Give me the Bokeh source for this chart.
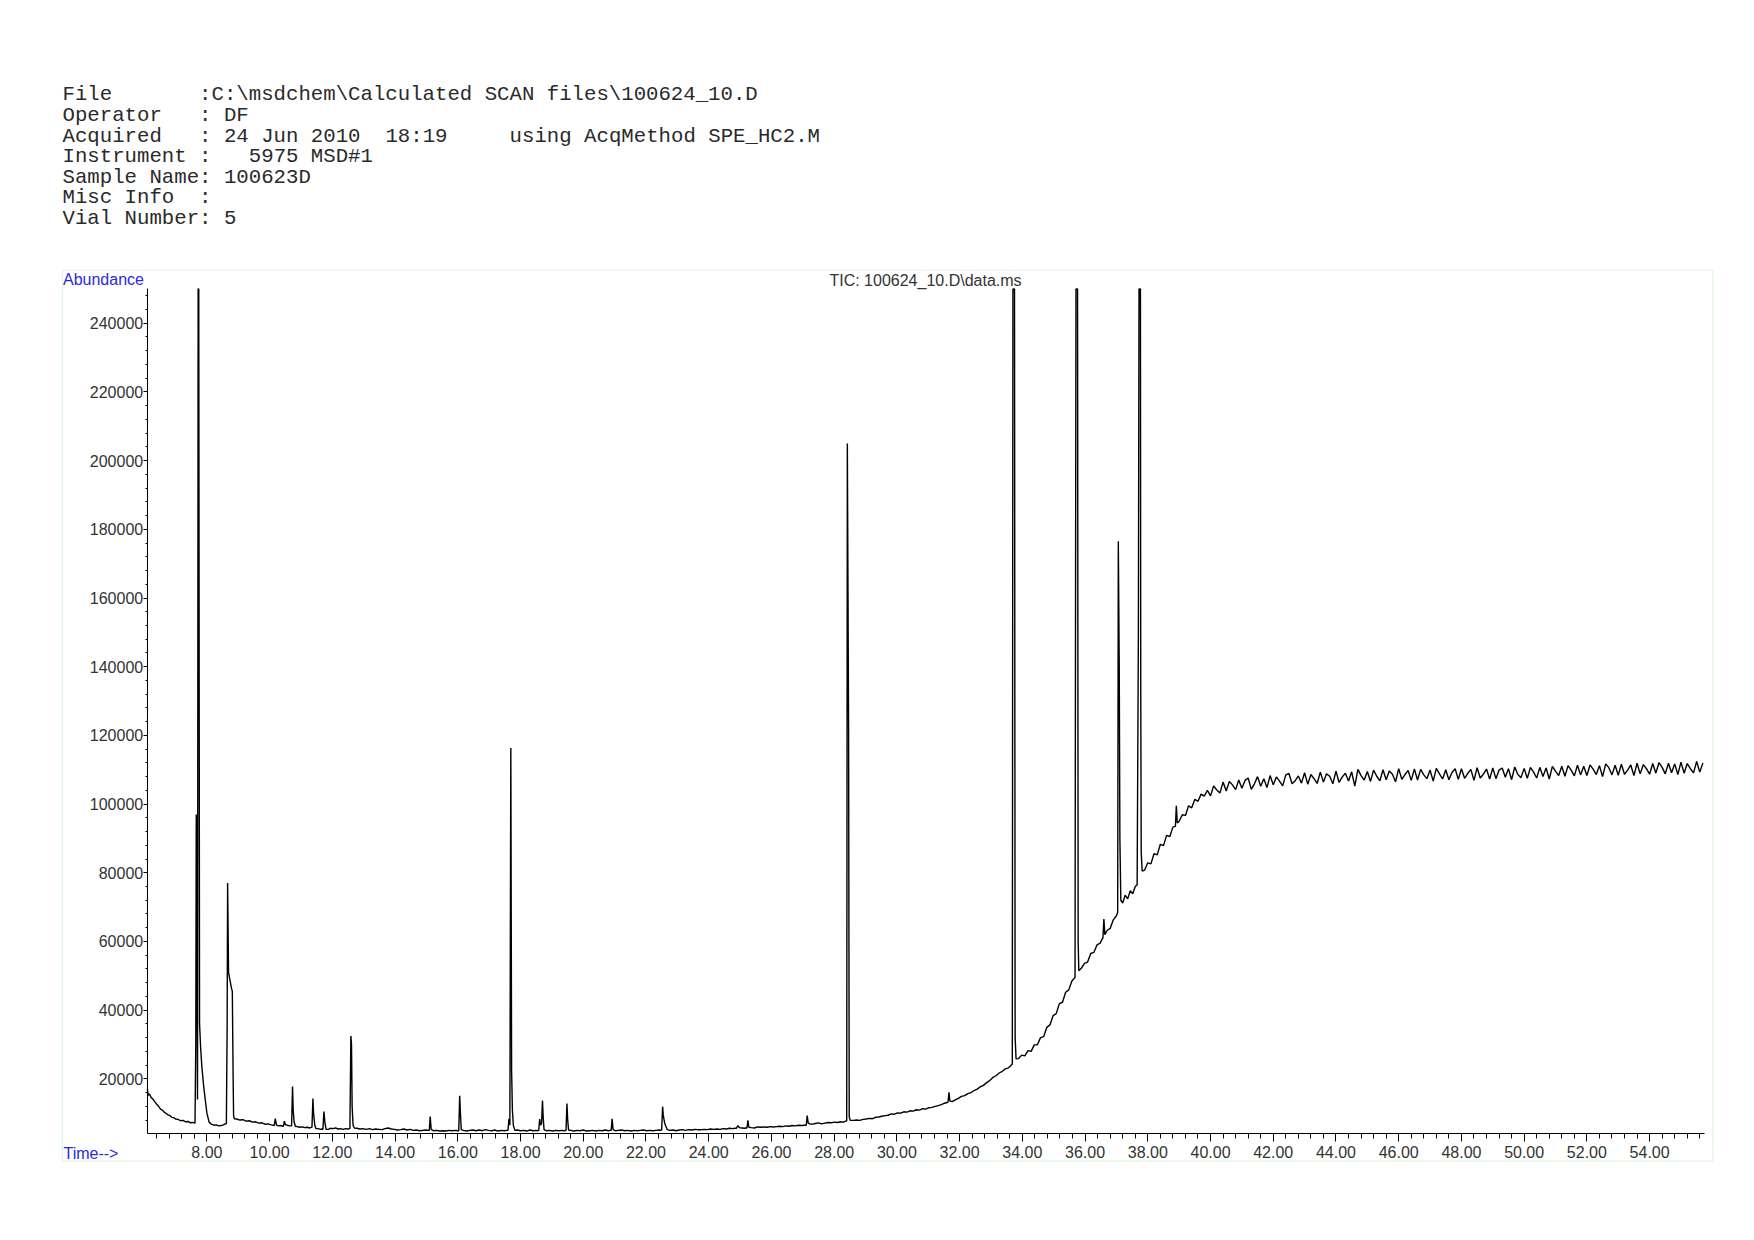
from bokeh.plotting import figure
from bokeh.models import (Range1d, LinearAxis, FixedTicker, PrintfTickFormatter,
                          Label, BoxAnnotation)
from bokeh.embed import file_html
from bokeh.resources import INLINE

# ---------------- data ----------------
header_lines = [
    [(0, "File"), (11, ":C:\\msdchem\\Calculated SCAN files\\100624_10.D")],
    [(0, "Operator"), (11, ": DF")],
    [(0, "Acquired"), (11, ": 24 Jun 2010"), (26, "18:19"), (36, "using AcqMethod SPE_HC2.M")],
    [(0, "Instrument :"), (15, "5975 MSD#1")],
    [(0, "Sample Name: 100623D")],
    [(0, "Misc Info"), (11, ":")],
    [(0, "Vial Number: 5")],
]
plot_title = "TIC: 100624_10.D\\data.ms"
y_label = "Abundance"
x_label = "Time-->"

x_start, x_end = 6.096, 55.76          # time axis extent (min)
y_start, y_end = 4000, 250000          # abundance axis extent
x_major_ticks = [8, 10, 12, 14, 16, 18, 20, 22, 24, 26, 28, 30, 32, 34, 36, 38, 40,
                 42, 44, 46, 48, 50, 52, 54]
y_major_ticks = [20000, 40000, 60000, 80000, 100000, 120000, 140000, 160000, 180000,
                 200000, 220000, 240000]

# baseline of the TIC trace (minutes, abundance)
base_time = [6.10, 6.13, 6.17, 6.22, 6.28, 6.34, 6.40, 6.46, 6.52, 6.58, 6.64, 6.70, 6.76, 6.82,
             6.88, 6.94, 7.00, 7.08, 7.16, 7.24, 7.32, 7.40, 7.48, 7.56, 7.61,
             8.14, 8.22, 8.30, 8.38, 8.46, 8.54, 8.60,
             8.95, 9.05, 9.15, 9.25, 9.35, 9.45, 9.55, 9.65, 9.75, 9.85, 9.95, 10.05, 10.12,
             10.28, 10.36, 10.42, 10.56, 10.64,
             10.88, 10.96, 11.04, 11.12, 11.20, 11.28, 11.33, 11.55, 11.62, 11.67,
             11.86, 11.94, 12.02, 12.10, 12.18, 12.26, 12.34, 12.42, 12.50, 12.54,
             12.78, 12.88, 12.98, 13.08, 13.18, 13.28, 13.38, 13.48, 13.58, 13.68, 13.78, 13.88,
             13.98, 14.08, 14.18, 14.28, 14.38, 14.48, 14.58, 14.68, 14.78, 14.88, 14.98, 15.06,
             15.22, 15.32, 15.42, 15.52, 15.62, 15.72, 15.82, 15.92, 16.00,
             16.18, 16.28, 16.38, 16.48, 16.58, 16.68, 16.78, 16.88, 16.98, 17.08, 17.18, 17.28,
             17.38, 17.48, 17.56,
             17.90, 18.00, 18.10, 18.20, 18.30, 18.40, 18.50, 18.55,
             18.82, 18.92, 19.02, 19.12, 19.22, 19.32, 19.40,
             19.60, 19.70, 19.80, 19.90, 20.00, 20.10, 20.20, 20.30, 20.40, 20.50, 20.60, 20.70,
             20.80, 20.86,
             21.02, 21.12, 21.22, 21.32, 21.42, 21.52, 21.62, 21.72, 21.82, 21.92, 22.02, 22.12,
             22.22, 22.32, 22.42, 22.47,
             22.76, 22.86, 22.96, 23.06, 23.16, 23.26, 23.36, 23.46, 23.56, 23.66, 23.76, 23.86,
             23.96, 24.06, 24.16, 24.26, 24.36, 24.46, 24.56, 24.66, 24.76, 24.84,
             25.06, 25.14, 25.19,
             25.36, 25.46, 25.56, 25.66, 25.76, 25.86, 25.96, 26.06, 26.16, 26.26, 26.36, 26.46,
             26.56, 26.66, 26.76, 26.86, 26.96, 27.06,
             27.30, 27.40, 27.50, 27.60, 27.70, 27.80, 27.90, 28.00, 28.10, 28.20, 28.30, 28.36,
             28.62, 28.72, 28.82, 28.92, 29.02, 29.12, 29.22, 29.32, 29.42, 29.52, 29.62, 29.72,
             29.82, 29.92, 30.02, 30.12, 30.22, 30.32, 30.42, 30.52, 30.62, 30.72, 30.82, 30.92,
             31.02, 31.12, 31.22, 31.32, 31.42, 31.52, 31.60,
             31.76, 31.86, 31.96, 32.06, 32.16, 32.26, 32.36, 32.46, 32.56, 32.66, 32.76, 32.86,
             32.96, 33.06, 33.16, 33.26, 33.36, 33.46, 33.56, 33.65,
             33.88, 33.98, 34.08, 34.18, 34.28, 34.38, 34.48, 34.58, 34.68, 34.78, 34.88, 34.98,
             35.08, 35.18, 35.28, 35.38, 35.48, 35.58, 35.65,
             35.88, 35.98, 36.08, 36.18, 36.28, 36.38, 36.48, 36.55,
             36.70, 36.80, 36.90, 37.00,
             37.20, 37.28, 37.36, 37.44, 37.52, 37.60,
             37.90, 38.00, 38.10, 38.20, 38.30, 38.40, 38.50, 38.60, 38.70, 38.80,
             39.00, 39.10, 39.20, 39.30, 39.40, 39.50, 39.60, 39.70, 39.80, 39.90]
base_abund = [17000, 15200, 15600, 14600, 14100, 13300, 12600, 12000, 11200, 10900, 10300, 9900,
              9500, 9300, 8800, 8700, 8300, 8200, 7800, 7900, 7500, 7600, 7200, 7300, 7100,
              6800, 6500, 6600, 6300, 6400, 6700, 6900,
              8300, 8000, 8100, 7700, 7800, 7400, 7500, 7100, 7200, 6800, 6900, 6600, 6500,
              6300, 6400, 6200, 6500, 6300,
              6100, 5900, 6000, 5800, 5900, 5700, 5900, 5500, 5300, 5400,
              5300, 5600, 5500, 5700, 5400, 5500, 5300, 5500, 5400, 5500,
              5600, 5400, 5500, 5300, 5500, 5200, 5400, 5300, 5200, 5500, 5700, 5400,
              5300, 5100, 5200, 5400, 5100, 5300, 5000, 5100, 4900, 5000, 5100, 5000,
              4900, 5000, 4800, 4900, 4800, 5000, 4900, 5000, 4900,
              5000, 4800, 5000, 5100, 4900, 5100, 4900, 5200, 5000, 4900, 5100, 4800,
              5000, 4900, 5000,
              5100, 4900, 5000, 4800, 5100, 4900, 5000, 4900,
              4900, 5000, 4800, 5000, 4900, 5000, 4900,
              5000, 4800, 5000, 4900, 5100, 4800, 4900, 5000, 4800, 5000, 4900, 5100,
              4900, 5000,
              4900, 5000, 5100, 4900, 5000, 4800, 5000, 4900, 5000, 5100, 4900, 5000,
              4900, 5000, 5100, 5000,
              5000, 5100, 4900, 5100, 5200, 5000, 5200, 5100, 5300, 5200, 5200, 5300,
              5200, 5400, 5300, 5400, 5300, 5500, 5400, 5600, 5500, 5600,
              5700, 5600, 5700,
              5800, 5700, 6000, 5900, 6000, 5900, 6100, 6000, 6100, 6200, 6100, 6300,
              6200, 6400, 6300, 6500, 6400, 6500,
              6800, 7000, 7200, 6900, 7100, 7300, 7200, 7400, 7300, 7500, 7400, 7700,
              7900, 8000, 7900, 8200, 8300, 8500, 8400, 8800, 8900, 9100, 9300, 9400,
              9800, 9700, 10100, 10000, 10400, 10300, 10700, 10600, 11000, 10900, 11300, 11200,
              11600, 11700, 12000, 12200, 12500, 12900, 13100,
              13400, 13900, 14300, 14900, 15100, 15700, 16000, 16600, 17000, 17700, 18100, 18900,
              19500, 20400, 20900, 21700, 22200, 22900, 23200, 24000,
              25900, 26900, 26700, 28200, 28000, 29900, 29900, 32000, 32300, 35000, 35700, 38400,
              39000, 41900, 42300, 45200, 45900, 48500, 49200,
              52200, 53600, 54000, 56500, 56800, 59000, 59500, 60800,
              63200, 63800, 66300, 67500,
              71200, 73500, 72400, 74800, 73900, 76000,
              80800, 82900, 82600, 85600, 85200, 88300, 87900, 90900, 90500, 93300,
              95000, 96900, 96700, 99500, 98900, 101400, 100800, 102900, 102300, 104000]

# noisy plateau, sampled every 0.1 min from 40.0 min
plateau_start = 40.0
plateau_step = 0.1
plateau_abund = [
    102400, 105300, 104100, 103200, 106400, 103800, 106600, 105600, 104200, 107000,
    104600, 106900, 107600, 104300, 105900, 108000, 105200, 107400, 104800, 108300,
    105600, 107900, 106700, 105300, 108500, 108900, 105900, 106800, 108200, 106100,
    109100, 105800, 108600, 107400, 106000, 109300, 106400, 108800, 108100, 105900,
    109600, 106300, 107900, 109000, 106700, 109400, 105200, 110100, 108300, 107000,
    109500, 106600, 109900, 108100, 106800, 110000, 107100, 109600, 108700, 106500,
    110300, 107200, 108600, 109800, 106900, 110200, 107000, 110100, 108500, 107400,
    109900, 106700, 110400, 108800, 107300, 110000, 107100, 109200, 110300, 107200,
    110300, 107500, 108900, 110100, 106900, 110600, 107600, 108700, 110200, 107300,
    110500, 107400, 109900, 110500, 107800, 110300, 107100, 110800, 108600, 107700,
    110400, 107500, 110700, 109300, 107600, 110700, 108000, 110500, 107300, 111000,
    109600, 108300, 111000, 108100, 111200, 109900, 108200, 111300, 108500, 111000,
    108300, 111400, 110200, 108600, 111200, 108000, 111700, 110600, 108500, 111300,
    108400, 111600, 108700, 109900, 111400, 108300, 111900, 108800, 111500, 110300,
    108700, 111800, 109000, 112100, 110700, 108800, 111900, 109100, 111700, 108600,
    112200, 109000, 111800, 110300, 109100, 112400, 109300, 112000]

# peaks: profile points (minutes, abundance); 500000 = off scale
peak_time = [
    [7.62, 7.645, 7.66, 7.675, 7.70, 7.72, 7.74, 7.765, 7.80, 7.84, 7.90, 7.95, 8.00, 8.07],
    [8.62, 8.645, 8.66, 8.675, 8.69, 8.72, 8.75, 8.78, 8.81, 8.835, 8.85, 8.87],
    [10.15, 10.18, 10.22],
    [10.44, 10.47, 10.50],
    [10.70, 10.73, 10.75, 10.78, 10.82],
    [11.35, 11.38, 11.40, 11.44, 11.48],
    [11.70, 11.73, 11.76, 11.80],
    [12.56, 12.59, 12.61, 12.63, 12.66, 12.70],
    [15.09, 15.12, 15.15],
    [16.03, 16.06, 16.08, 16.11],
    [17.60, 17.63, 17.66, 17.69, 17.715, 17.74, 17.77, 17.82],
    [18.58, 18.61, 18.64, 18.67, 18.70, 18.72, 18.75],
    [19.45, 19.48, 19.50, 19.53],
    [20.89, 20.92, 20.95],
    [22.50, 22.53, 22.55, 22.57, 22.60, 22.63, 22.68],
    [24.88, 24.93, 24.98],
    [25.22, 25.25, 25.28],
    [27.11, 27.14, 27.17, 27.22],
    [28.40, 28.42, 28.445, 28.46, 28.48, 28.51],
    [31.63, 31.66, 31.69],
    [33.68, 33.70, 33.75, 33.77, 33.80],
    [35.68, 35.71, 35.76, 35.78, 35.80],
    [36.57, 36.60, 36.63],
    [37.04, 37.06, 37.09, 37.11, 37.14],
    [37.66, 37.70, 37.72, 37.765, 37.775, 37.79, 37.82],
    [38.88, 38.91, 38.94],
]
peak_abund = [
    [7100, 30000, 97000, 80000, 14000, 500000, 500000, 36000, 29000, 23400, 17500, 13700, 10000, 7400],
    [6900, 35000, 77000, 64000, 51000, 49500, 48000, 46500, 45500, 21000, 9500, 8400],
    [6500, 8400, 6500],
    [6200, 7700, 6700],
    [6300, 17800, 11000, 7500, 6200],
    [5900, 14300, 10000, 6500, 5500],
    [5300, 10500, 7500, 5300],
    [5500, 32500, 30000, 12000, 6500, 5700],
    [5000, 9000, 5300],
    [4900, 15100, 10500, 5200],
    [5000, 8400, 6500, 116300, 22400, 11000, 6500, 5000],
    [5000, 8300, 6500, 7000, 13700, 9000, 5200],
    [5000, 12800, 8500, 5100],
    [5000, 8400, 5200],
    [5200, 11900, 9500, 8400, 7000, 6300, 5200],
    [5600, 6400, 5800],
    [5700, 7900, 5900],
    [6500, 9300, 7200, 6900],
    [7700, 205000, 153000, 121000, 9000, 7900],
    [13200, 16100, 13500],
    [24300, 500000, 500000, 32000, 25800],
    [49500, 500000, 500000, 59700, 51500],
    [61000, 66500, 62000],
    [68500, 176500, 139000, 90000, 72000],
    [76500, 150000, 500000, 500000, 134000, 86000, 80500],
    [93500, 99500, 94500],
]

# ---------------- assemble the trace ----------------
pts = list(zip(base_time, base_abund))
pts += [(round(plateau_start + plateau_step * i, 2), v) for i, v in enumerate(plateau_abund)]
for ts, vs in zip(peak_time, peak_abund):
    lo, hi = min(ts), max(ts)
    pts = [pt for pt in pts if not (lo <= pt[0] <= hi)]
    pts += list(zip(ts, vs))
pts.sort(key=lambda pt: pt[0])
trace_t = [pt[0] for pt in pts]
trace_v = [min(pt[1], y_end) for pt in pts]   # off-scale peaks are cut at the axis top

# ---------------- page geometry (pixels) ----------------
W, H = 1738, 1224
AX_LEFT, AX_RIGHT = 146.7, 1704.3     # pixel positions of x_start / x_end
AX_BOTTOM, AX_TOP = 1133.3, 288.4     # pixel positions of y_start / y_end
kx = (AX_RIGHT - AX_LEFT) / (x_end - x_start)
ky = (AX_BOTTOM - AX_TOP) / (y_end - y_start)


def dx(px):
    return x_start + (px - AX_LEFT) / kx


def dy(py):
    return y_start + (AX_BOTTOM - py) / ky


p = figure(width=W, height=H, output_backend="svg", toolbar_location=None,
           x_range=Range1d(dx(0), dx(W)), y_range=Range1d(dy(H), dy(0)),
           x_axis_type=None, y_axis_type=None, min_border=0)
p.title.visible = False
p.outline_line_color = None
p.background_fill_color = "white"
p.border_fill_color = "white"

x_minor = [round(6.4 + 0.4 * i, 2) for i in range(124)]
x_minor = [t for t in x_minor if abs(t / 2 - round(t / 2)) > 1e-6 and t < x_end]
y_minor = [v for v in range(8000, y_end, 4000) if v % 20000 != 0]

xaxis = LinearAxis(ticker=FixedTicker(ticks=x_major_ticks, minor_ticks=x_minor),
                   formatter=PrintfTickFormatter(format="%.2f"),
                   fixed_location=y_start, bounds=(x_start, x_end))
yaxis = LinearAxis(ticker=FixedTicker(ticks=y_major_ticks, minor_ticks=y_minor),
                   formatter=PrintfTickFormatter(format="%d"),
                   fixed_location=x_start, bounds=(y_start, y_end))
for ax in (xaxis, yaxis):
    ax.axis_line_color = "black"
    ax.axis_line_width = 1
    ax.major_tick_line_color = "black"
    ax.minor_tick_line_color = "black"
    ax.major_tick_in = 0
    ax.minor_tick_in = 0
    ax.major_label_text_font = "Liberation Sans"
    ax.major_label_text_font_size = "16px"
    ax.major_label_text_color = "#333333"
xaxis.major_tick_out = 8
xaxis.minor_tick_out = 5
xaxis.major_label_standoff = 4
yaxis.major_tick_out = 4
yaxis.minor_tick_out = 2
yaxis.major_label_standoff = 0
p.add_layout(xaxis, "below")
p.add_layout(yaxis, "left")

p.line(trace_t, trace_v, line_color="black", line_width=1.4)

# green frame around the chart
p.add_layout(BoxAnnotation(left=dx(62), right=dx(1712.3), top=dy(269.5), bottom=dy(1160.7),
                           fill_alpha=0, line_color="#99e099", line_width=1.2))

blue = "#2a2ad8"
p.add_layout(Label(x=dx(62.5), y=dy(278.5), text=y_label,
                   text_font="Liberation Sans", text_font_size="16px", text_color=blue,
                   text_baseline="alphabetic"))
p.add_layout(Label(x=dx(63), y=dy(1152.5), text=x_label,
                   text_font="Liberation Sans", text_font_size="16px", text_color=blue,
                   text_baseline="alphabetic"))
p.add_layout(Label(x=dx(925), y=dy(280), text=plot_title,
                   text_font="Liberation Sans", text_font_size="16px", text_color="#333333",
                   text_align="center", text_baseline="alphabetic"))

fs = 20.7
cw = 0.6 * fs
for i, line in enumerate(header_lines):
    for col, seg in line:
        p.add_layout(Label(x=dx(62 + col * cw), y=dy(94.2 + 20.65 * i),
                           text=seg, text_font="Liberation Mono", text_font_size=f"{fs}px",
                           text_color="#2a2a2a", text_baseline="alphabetic"))

open("out.html", "w").write(file_html(p, INLINE))
